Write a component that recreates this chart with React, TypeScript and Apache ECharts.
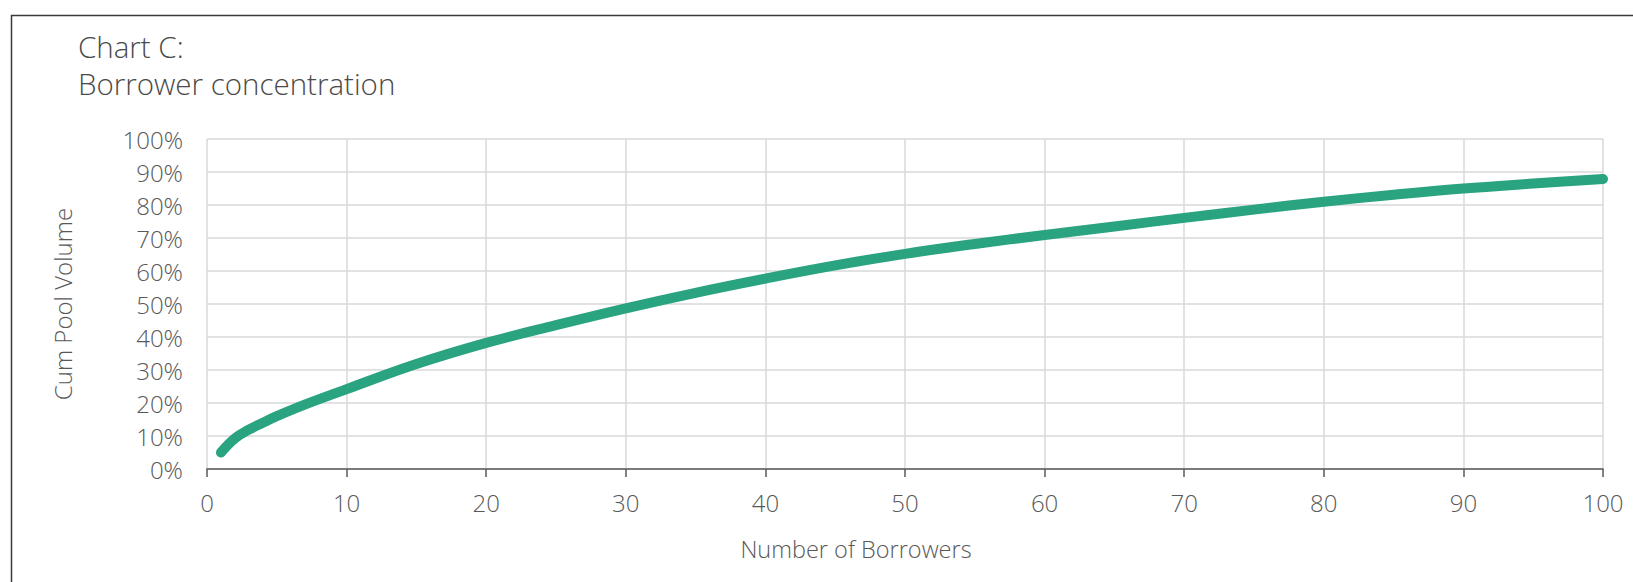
import React, { useEffect, useRef } from "react";
import * as echarts from "echarts";

const titleLines = ["Chart C:", "Borrower concentration"];
const xAxisTitle = "Number of Borrowers";
const yAxisTitle = "Cum Pool Volume";

// Number of borrowers (x) and cumulative pool volume in % (y)
const borrowers = [1, 2, 3, 4, 5, 7, 10, 15, 20, 25, 30, 35, 40, 45, 50, 55, 60, 65, 70, 75, 80, 85, 90, 95, 100];
const cumVolume = [5.0, 9.3, 11.9, 14.0, 16.0, 19.5, 24.2, 31.8, 38.2, 43.6, 48.7, 53.4, 57.7, 61.7, 65.2, 68.2, 70.9, 73.5, 76.1, 78.6, 81.0, 83.1, 85.0, 86.5, 87.9];

const xMin = 0;
const xMax = 100;
const xStep = 10;
const yMin = 0;
const yMax = 100;
const yStep = 10;

const FONT = "'Open Sans', 'Noto Sans', sans-serif";
const TEXT_COLOR = "#595959";

export default function App() {
  const ref = useRef<HTMLDivElement>(null);

  useEffect(() => {
    if (!ref.current) return;
    const chart = echarts.init(ref.current, undefined, { renderer: "svg" });
    const seriesData = borrowers.map((b, i) => [b, cumVolume[i]]);
    chart.setOption({
      animation: false,
      backgroundColor: "#ffffff",
      textStyle: { fontFamily: FONT },
      title: {
        text: titleLines.join("\n"),
        left: 78,
        top: 28,
        padding: 0,
        textStyle: {
          fontFamily: FONT,
          fontSize: 29.5,
          fontWeight: 300,
          color: "#4a4a4a",
          lineHeight: 37,
        },
      },
      graphic: [
        {
          type: "rect",
          silent: true,
          shape: { x: 11.5, y: 15.5, width: 2000, height: 1000 },
          style: { fill: "none", stroke: "#3a3a3a", lineWidth: 1.5 },
          z: 100,
        },
      ],
      grid: {
        left: 207,
        right: 30,
        top: 139,
        bottom: 113,
        containLabel: false,
      },
      xAxis: {
        type: "value",
        min: xMin,
        max: xMax,
        interval: xStep,
        name: xAxisTitle,
        nameLocation: "middle",
        nameGap: 68,
        nameTextStyle: {
          fontFamily: FONT,
          fontSize: 23.5,
          fontWeight: 300,
          color: TEXT_COLOR,
          padding: [0, 98, 0, 0],
        },
        axisLine: { show: true, lineStyle: { color: "#595959", width: 1.5 } },
        axisTick: { show: true, length: 8, lineStyle: { color: "#595959", width: 1.5 } },
        axisLabel: {
          margin: 21,
          fontFamily: FONT,
          fontSize: 24,
          fontWeight: 300,
          color: TEXT_COLOR,
        },
        splitLine: { show: true, lineStyle: { color: "#d9d9d9", width: 1.5 } },
      },
      yAxis: {
        type: "value",
        min: yMin,
        max: yMax,
        interval: yStep,
        name: yAxisTitle,
        nameLocation: "middle",
        nameGap: 133,
        nameTextStyle: {
          fontFamily: FONT,
          fontSize: 24,
          fontWeight: 300,
          color: TEXT_COLOR,
        },
        axisLine: { show: false },
        axisTick: { show: false },
        axisLabel: {
          margin: 24,
          fontFamily: FONT,
          fontSize: 24,
          fontWeight: 300,
          color: TEXT_COLOR,
          formatter: (v: number) => `${v}%`,
        },
        splitLine: { show: true, lineStyle: { color: "#d9d9d9", width: 1.5 } },
      },
      series: [
        {
          type: "line",
          data: seriesData,
          showSymbol: false,
          symbol: "none",
          smooth: 0.4,
          lineStyle: { color: "#29a380", width: 10, cap: "round", join: "round" },
          itemStyle: { color: "#29a380" },
        },
      ],
    });
    return () => chart.dispose();
  }, []);

  return (
    <div
      ref={ref}
      style={{ position: "absolute", left: 0, top: 0, width: 1633, height: 582, background: "#ffffff" }}
    />
  );
}
